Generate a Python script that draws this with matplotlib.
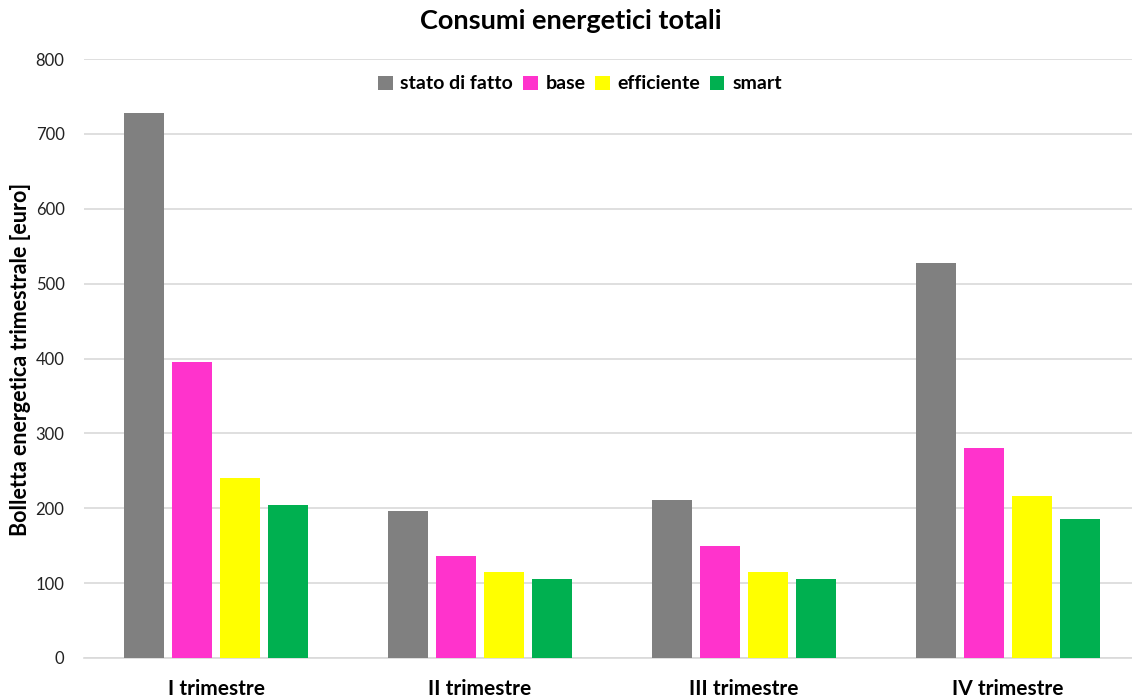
import matplotlib
matplotlib.use("Agg")
import matplotlib.pyplot as plt
import numpy as np

categories = ["I trimestre", "II trimestre", "III trimestre", "IV trimestre"]
series_names = ["stato di fatto", "base", "efficiente", "smart"]
stato_di_fatto = [728, 196, 211, 527]
base = [395, 136, 150, 280]
efficiente = [240, 115, 115, 216]
smart = [204, 105, 105, 186]
colors = ["#808080", "#FF33CC", "#FFFF00", "#00B050"]
yticks = [0, 100, 200, 300, 400, 500, 600, 700, 800]

plt.rcParams['font.family'] = ['Lato', 'DejaVu Sans']

fig = plt.figure(figsize=(11.32, 6.98), dpi=100)
ax = fig.add_axes([84/1132, 40/698, 1 - 84/1132, (658-59)/698])

x = np.arange(len(categories))
step = 0.182
width = 0.152
all_series = [stato_di_fatto, base, efficiente, smart]
for i, (name, vals, c) in enumerate(zip(series_names, all_series, colors)):
    ax.bar(x + (i - 1.5) * step, vals, width, color=c, label=name, zorder=3)

ax.set_ylim(0, 800)
ax.set_yticks(yticks)
ax.set_xlim(-0.5, 3.5 - 8/264)
ax.set_xticks(x)
ax.set_xticklabels(categories, fontsize=15, fontweight='bold')
ax.tick_params(axis='y', labelsize=12, length=0, pad=14, labelcolor='#222222')
ax.tick_params(axis='x', length=0, pad=15)
ax.grid(axis='y', color='#D9D9D9', linewidth=1.2, zorder=0)
for s in ['top', 'right', 'left']:
    ax.spines[s].set_visible(False)
ax.spines['bottom'].set_color('#D9D9D9')
ax.spines['bottom'].set_linewidth(1.2)

fig.text(21/1132, 1 - 359/698, "Bolletta energetica trimestrale [euro]", rotation=90,
         ha='center', va='center', fontsize=15.5, fontweight='bold')

fig.text(571/1132, 1 - 21/698, "Consumi energetici totali", ha='center', va='center',
         fontsize=19.5, fontweight='bold')

leg = ax.legend(loc='upper center', bbox_to_anchor=((580-84)/(1132-84), 1 + 1/599), ncol=4,
                frameon=False, prop={'weight': 'bold', 'size': 14},
                handlelength=0.75, handleheight=0.75, handletextpad=0.4, columnspacing=0.5)

fig.savefig("out.png", dpi=100)
